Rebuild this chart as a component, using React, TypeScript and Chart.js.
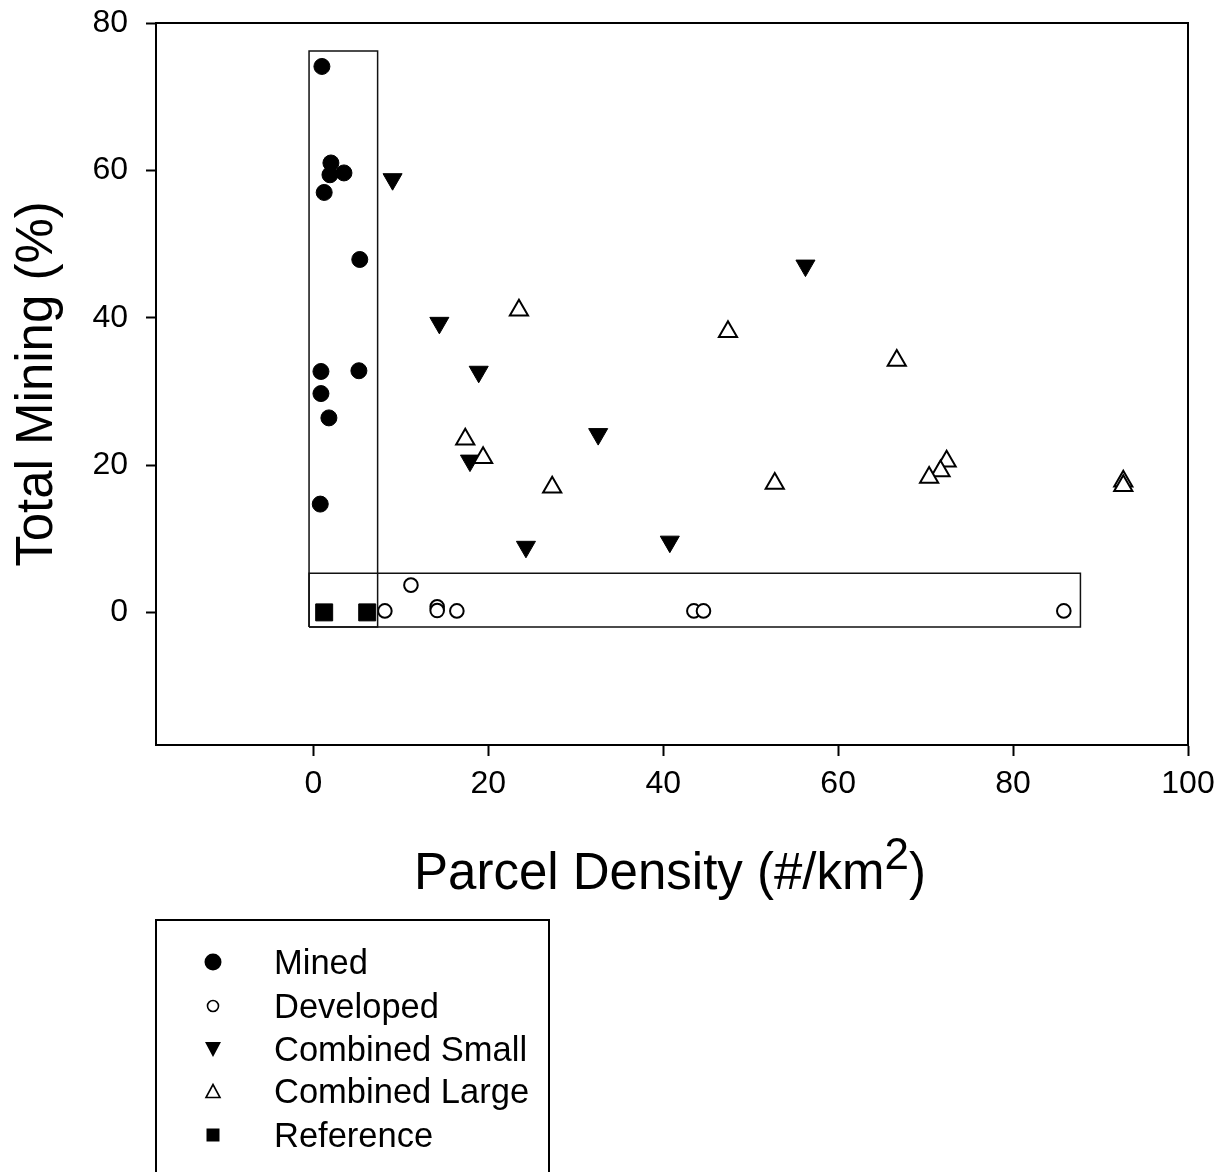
import React, { useEffect, useRef } from 'react';
import { Chart, registerables } from 'chart.js';

Chart.register(...registerables);

const FONT = '"Liberation Sans", Arial, Helvetica, sans-serif';

// Axis settings (values only)
const xTickValues = [0, 20, 40, 60, 80, 100];
const yTickValues = [0, 20, 40, 60, 80];
const xRange = [-18, 100];
const yRange = [-18, 80];
const xTitleMain = 'Parcel Density (#/km';
const xTitleSup = '2';
const xTitleEnd = ')';
const yTitle = 'Total Mining (%)';

const seriesNames = ['Mined', 'Developed', 'Combined Small', 'Combined Large', 'Reference'];

// Series values
const minedX = [0.97, 2.0, 3.49, 1.89, 1.23, 5.3, 0.86, 5.2, 0.86, 1.77, 0.78];
const minedY = [74.1, 61.0, 59.65, 59.4, 57.0, 47.9, 32.7, 32.8, 29.7, 26.4, 14.7];

const developedX = [11.15, 8.17, 14.15, 14.15, 16.4, 43.5, 44.6, 85.8];
const developedY = [3.7, 0.2, 0.76, 0.25, 0.2, 0.2, 0.2, 0.2];

const smallX = [9.05, 56.26, 14.4, 18.9, 32.56, 17.9, 24.3, 40.75];
const smallY = [58.8, 47.07, 39.3, 32.66, 24.2, 20.6, 8.9, 9.6];

const largeX = [23.5, 47.4, 17.36, 19.4, 27.3, 52.75, 66.7, 72.4, 71.7, 70.4, 92.6, 92.6];
const largeY = [41.0, 38.1, 23.5, 21.0, 17.0, 17.5, 34.2, 20.5, 19.2, 18.3, 17.8, 17.2];

const referenceX = [1.23, 6.15];
const referenceY = [0, 0];

// Highlight boxes (data bounds)
const verticalBoxX = [-0.5, 7.34];
const verticalBoxY = [-2.0, 76.2];
const horizontalBoxX = [-0.5, 87.7];
const horizontalBoxY = [-2.0, 5.3];

function zip(xs: number[], ys: number[]) {
  return xs.map((x, i) => ({ x, y: ys[i] }));
}

function boxPath(bx: number[], by: number[]) {
  return [
    { x: bx[0], y: by[0] },
    { x: bx[0], y: by[1] },
    { x: bx[1], y: by[1] },
    { x: bx[1], y: by[0] },
    { x: bx[0], y: by[0] },
  ];
}

const decorPlugin = {
  id: 'decor',
  afterDraw(chart: any) {
    const ctx = chart.ctx as CanvasRenderingContext2D;
    const a = chart.chartArea;
    ctx.save();
    // frame top & right
    ctx.strokeStyle = '#000';
    ctx.lineWidth = 2;
    ctx.beginPath();
    ctx.moveTo(a.left, a.top);
    ctx.lineTo(a.right, a.top);
    ctx.lineTo(a.right, a.bottom);
    ctx.stroke();

    // x title
    const fMain = `51px ${FONT}`;
    const fSup = `44px ${FONT}`;
    ctx.fillStyle = '#000';
    ctx.textBaseline = 'alphabetic';
    ctx.textAlign = 'left';
    ctx.font = fMain;
    const w1 = ctx.measureText(xTitleMain).width;
    const w3 = ctx.measureText(xTitleEnd).width;
    ctx.font = fSup;
    const w2 = ctx.measureText(xTitleSup).width;
    const total = w1 + w2 + w3;
    const cx = (a.left + a.right) / 2 - 2;
    const baseY = 889;
    const x0 = cx - total / 2;
    ctx.font = fMain;
    ctx.fillText(xTitleMain, x0, baseY);
    ctx.font = fSup;
    ctx.fillText(xTitleSup, x0 + w1, baseY - 20);
    ctx.font = fMain;
    ctx.fillText(xTitleEnd, x0 + w1 + w2, baseY);

    // y title
    ctx.save();
    ctx.translate(52, (a.top + a.bottom) / 2);
    ctx.rotate(-Math.PI / 2);
    ctx.textAlign = 'center';
    ctx.textBaseline = 'alphabetic';
    ctx.font = fMain;
    ctx.fillText(yTitle, 0, 0);
    ctx.restore();

    // legend box
    ctx.lineWidth = 2;
    ctx.strokeStyle = '#000';
    ctx.strokeRect(156, 920, 393, 300);

    const mx = 213;
    const tx = 274;
    const rows = [962, 1006, 1049, 1091, 1135];
    ctx.font = `34.5px ${FONT}`;
    ctx.textAlign = 'left';
    ctx.textBaseline = 'alphabetic';
    seriesNames.forEach((name, i) => {
      const y = rows[i];
      ctx.fillStyle = '#000';
      ctx.strokeStyle = '#000';
      ctx.beginPath();
      if (i === 0) {
        ctx.arc(mx, y, 8.5, 0, Math.PI * 2);
        ctx.fill();
      } else if (i === 1) {
        ctx.lineWidth = 1.6;
        ctx.arc(mx, y, 5.5, 0, Math.PI * 2);
        ctx.fillStyle = '#fff';
        ctx.fill();
        ctx.stroke();
      } else if (i === 2) {
        ctx.moveTo(mx - 8, y - 7);
        ctx.lineTo(mx + 8, y - 7);
        ctx.lineTo(mx, y + 8);
        ctx.closePath();
        ctx.fill();
      } else if (i === 3) {
        ctx.lineWidth = 1.6;
        ctx.moveTo(mx - 7, y + 6.5);
        ctx.lineTo(mx + 7, y + 6.5);
        ctx.lineTo(mx, y - 6.5);
        ctx.closePath();
        ctx.stroke();
      } else {
        ctx.rect(mx - 6.5, y - 6.5, 13, 13);
        ctx.fill();
      }
      ctx.fillStyle = '#000';
      ctx.fillText(name, tx, y + 12);
    });
    ctx.restore();
  },
};

const zeroPad = (s: any) => {
  s.paddingTop = 0;
  s.paddingBottom = 0;
  s.paddingLeft = 0;
  s.paddingRight = 0;
};

export default function App() {
  const ref = useRef<HTMLCanvasElement | null>(null);

  useEffect(() => {
    if (!ref.current) return;
    const boxStyle = {
      showLine: true,
      pointRadius: 0,
      pointHoverRadius: 0,
      borderColor: '#111',
      borderWidth: 1.5,
      fill: false,
      tension: 0,
    };
    const chart = new Chart(ref.current, {
      type: 'scatter',
      data: {
        datasets: [
          { label: 'box1', data: boxPath(verticalBoxX, verticalBoxY), ...boxStyle } as any,
          { label: 'box2', data: boxPath(horizontalBoxX, horizontalBoxY), ...boxStyle } as any,
          {
            label: seriesNames[1],
            data: zip(developedX, developedY),
            pointStyle: 'circle',
            pointRadius: 6.8,
            backgroundColor: '#fff',
            borderColor: '#000',
            borderWidth: 2,
          },
          {
            label: seriesNames[3],
            data: zip(largeX, largeY),
            pointStyle: 'triangle',
            pointRadius: 10.5,
            backgroundColor: '#fff',
            borderColor: '#000',
            borderWidth: 2,
          },
          {
            label: seriesNames[2],
            data: zip(smallX, smallY),
            pointStyle: 'triangle',
            rotation: 180,
            pointRadius: 11,
            backgroundColor: '#000',
            borderColor: '#000',
            borderWidth: 1,
          },
          {
            label: seriesNames[0],
            data: zip(minedX, minedY),
            pointStyle: 'circle',
            pointRadius: 8,
            backgroundColor: '#000',
            borderColor: '#000',
            borderWidth: 1,
          },
          {
            label: seriesNames[4],
            data: zip(referenceX, referenceY),
            pointStyle: 'rect',
            pointRadius: 12,
            backgroundColor: '#000',
            borderColor: '#000',
            borderWidth: 1,
          },
        ],
      },
      options: {
        animation: false,
        responsive: false,
        devicePixelRatio: 1,
        events: [],
        layout: { padding: { left: 0, top: 23, right: 40, bottom: 1172 - 745 - 60 } },
        plugins: {
          legend: { display: false },
          tooltip: { enabled: false },
        },
        scales: {
          x: {
            type: 'linear',
            position: 'bottom',
            min: xRange[0],
            max: xRange[1],
            afterBuildTicks: (s: any) => {
              s.ticks = xTickValues.map((v) => ({ value: v }));
            },
            afterFit: (s: any) => {
              s.height = 60;
              zeroPad(s);
            },
            ticks: {
              font: { family: FONT, size: 32 },
              color: '#000',
              padding: 9,
              maxRotation: 0,
              autoSkip: false,
            },
            grid: {
              drawOnChartArea: false,
              drawTicks: true,
              tickLength: 11,
              tickWidth: 2,
              tickColor: '#000',
            },
            border: { display: true, color: '#000', width: 2 },
          },
          y: {
            type: 'linear',
            position: 'left',
            min: yRange[0],
            max: yRange[1],
            afterBuildTicks: (s: any) => {
              s.ticks = yTickValues.map((v) => ({ value: v }));
            },
            afterFit: (s: any) => {
              s.width = 156;
              zeroPad(s);
            },
            ticks: {
              font: { family: FONT, size: 32 },
              color: '#000',
              padding: 18,
              autoSkip: false,
            },
            grid: {
              drawOnChartArea: false,
              drawTicks: true,
              tickLength: 10,
              tickWidth: 2,
              tickColor: '#000',
            },
            border: { display: true, color: '#000', width: 2 },
          },
        },
      },
      plugins: [decorPlugin],
    });
    return () => chart.destroy();
  }, []);

  return (
    <div style={{ position: 'absolute', left: 0, top: 0, width: 1228, height: 1172, background: '#fff' }}>
      <canvas ref={ref} width={1228} height={1172} style={{ display: 'block', width: 1228, height: 1172 }} />
    </div>
  );
}
